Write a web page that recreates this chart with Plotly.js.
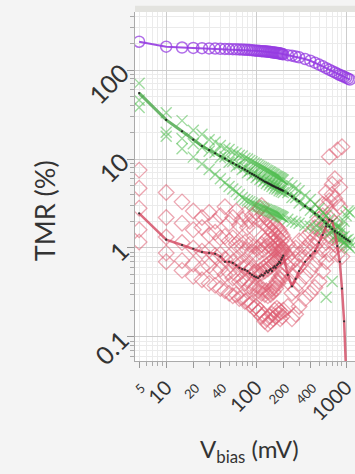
<!DOCTYPE html>
<html>
<head>
<meta charset="utf-8">
<script src="https://cdn.plot.ly/plotly-3.0.1.min.js"></script>
<style>
html,body{margin:0;padding:0;background:#f4f4f4;overflow:hidden;width:355px;height:474px;}
#chart{width:380px;height:474px;}
</style>
</head>
<body>
<div id="chart"></div>
<script>
// Bias voltage grid (mV)
const vbias = [5,10,15,20,25,30,35,40,45,50,55,60,65,70,75,80,85,90,95,100,
  105,110,115,120,125,130,135,140,145,150,155,160,165,170,175,180,185,190,195,200,
  225,250,275,300,350,400,450,500,550,600,650,700,750,800,850,900,950,1000,1050,1100];

// Purple series (TMR %)
const tmrPurple = [208,183,179,177,176,175,174,173,172.5,172,
  171.5,171,170.5,170,169,168.5,168,167,166,165,
  164.5,164,163,162.5,162,161,160.5,160,159,158,
  157.5,157,156,155.5,155,154,153,152,151,150,
  147,145,142,139,133,127,121,115,110,105,
  101,97,94,91,88,86,84,82,80,78];

// Green series: mean line and individual runs
const greenMean = [55,27.5,20.5,16.5,14,12.6,11.6,10.8,10.1,9.5,
  9.0,8.6,8.2,7.9,7.6,7.3,7.0,6.8,6.6,6.4,
  6.2,6.0,5.85,5.7,5.55,5.45,5.35,5.25,5.15,5.05,
  4.95,4.9,4.8,4.75,4.7,4.6,4.55,4.5,4.45,4.4,
  4.1,3.8,3.55,3.35,2.95,2.7,2.45,2.25,2.05,1.88,
  1.74,1.63,1.55,1.48,1.42,1.36,1.31,1.26,1.22,1.18];
const greenHigh = [71,33,27,21,19,16.5,15.5,14.2,13.2,12.8,
  12.0,11.6,11.0,10.8,10.2,10.0,9.6,9.3,9.0,8.8,
  8.5,8.3,8.1,7.9,7.7,7.5,7.4,7.2,7.1,6.9,
  6.8,6.7,6.5,6.4,6.3,6.2,6.1,6.0,5.9,5.8,
  5.4,5.0,4.7,4.4,3.9,3.5,3.1,2.8,2.5,2.3,
  2.1,1.95,1.85,1.75,1.7,1.65,2.0,2.3,2.6,2.5];
const greenMid = [46,20,17,14.8,13.5,12.2,11.8,10.4,10.6,9.2,
  9.4,8.3,8.7,7.6,8.0,7.0,7.4,6.6,6.9,6.2,
  6.5,5.9,6.1,5.6,5.8,5.3,5.6,5.1,5.4,4.9,
  5.2,4.7,5.0,4.6,4.8,4.4,4.7,4.3,4.6,4.2,
  4.2,3.7,3.7,3.2,3.0,2.65,2.5,2.2,2.1,1.85,
  1.8,1.6,1.6,1.45,1.45,1.32,1.35,1.22,1.25,1.15];
const greenLow = [38,18,13,10.5,8.8,7.6,6.7,6.0,5.4,4.9,
  4.6,4.3,4.0,3.7,3.5,3.4,3.3,3.2,3.1,3.0,
  2.95,2.9,2.85,2.8,2.75,2.7,2.66,2.62,2.58,2.55,
  2.5,2.47,2.44,2.4,2.37,2.34,2.3,2.27,2.24,2.2,
  2.1,2.0,1.95,1.9,1.8,1.75,1.7,1.65,1.55,0.28,
  1.45,0.42,1.35,1.3,1.25,1.2,1.15,1.1,1.05,1.0];

// Red series: mean line and individual runs
const redMean = [2.45,1.24,1.08,0.98,0.9,0.88,0.86,0.8,0.7,0.7,
  0.68,0.64,0.6,0.58,0.57,0.55,0.52,0.5,0.48,0.47,
  0.46,0.48,0.5,0.49,0.52,0.55,0.53,0.56,0.58,0.55,
  0.6,0.62,0.6,0.64,0.66,0.7,0.68,0.74,0.78,0.82,
  0.5,0.37,0.45,0.55,0.7,0.82,0.92,1.15,1.4,1.75,
  2.07,2.0,1.5,1.05,0.7,0.35,0.15,0.04,0.02,null];
const redA = [7.5,4.2,3.3,2.6,2.2,2.5,2.0,2.3,2.9,1.9,
  2.2,2.6,1.8,2.1,2.4,1.7,2.0,2.3,1.6,2.5,
  2.1,2.8,3.0,2.4,1.9,2.2,1.7,2.0,1.6,1.9,
  1.5,1.8,1.4,1.7,1.3,1.6,1.5,1.2,1.4,1.3,
  1.1,0.9,1.0,1.2,1.3,1.5,1.7,2.1,3.1,4.2,
  10.6,5.2,6.0,12.6,4.8,13.7,null,null,null,null];
const redB = [4.7,2.2,1.9,1.6,1.7,1.4,1.5,1.3,1.35,1.2,
  1.3,1.1,1.2,1.0,1.15,0.95,1.1,0.9,1.05,0.85,
  1.0,0.9,1.1,0.95,1.2,1.05,1.3,1.1,1.25,1.0,
  1.15,0.95,1.2,1.0,1.1,0.9,1.05,0.95,1.0,0.9,
  0.8,0.7,0.75,0.85,1.0,1.15,1.3,1.6,2.3,2.9,
  3.4,4.0,3.6,3.2,2.9,null,null,null,null,null];
const redC = [2.8,1.33,1.15,1.0,0.92,0.95,0.82,0.85,0.75,0.8,
  0.7,0.74,0.65,0.68,0.6,0.63,0.56,0.6,0.53,0.55,
  0.5,0.56,0.52,0.6,0.55,0.64,0.58,0.68,0.62,0.72,
  0.66,0.75,0.7,0.8,0.74,0.85,0.78,0.9,0.82,0.95,
  0.62,0.48,0.55,0.62,0.78,0.9,1.05,1.2,1.45,1.8,
  2.2,2.4,1.9,1.4,1.1,0.8,null,null,null,null];
const redD = [1.6,0.88,0.72,0.66,0.6,0.63,0.55,0.58,0.5,0.53,
  0.46,0.5,0.42,0.45,0.4,0.43,0.37,0.4,0.35,0.38,
  0.33,0.36,0.31,0.34,0.3,0.33,0.29,0.32,0.3,0.35,
  0.32,0.38,0.35,0.42,0.4,0.46,0.44,0.5,0.48,0.55,
  0.42,0.31,0.34,0.4,0.48,0.56,0.65,0.78,0.95,1.15,
  1.35,1.3,1.1,0.85,null,null,null,null,null,null];
const redE = [1.17,0.7,0.56,0.48,0.44,0.4,0.38,0.35,0.33,0.31,
  0.29,0.3,0.27,0.28,0.25,0.26,0.23,0.24,0.21,0.22,
  0.19,0.2,0.17,0.18,0.15,0.16,0.14,0.17,0.15,0.18,
  0.16,0.2,0.17,0.21,0.18,0.2,0.16,0.19,0.17,0.2,
  0.22,0.16,0.18,0.22,0.27,0.31,0.36,0.42,0.55,0.7,
  0.85,null,null,null,null,null,null,null,null,null];

// Tick labels
const xTickVals = [5,10,20,40,100,200,400,1000];
const xTickLabels = ['5','10','20','40','100','200','400','1000'];
const xBigLabels = ['10','100','1000'];
const yTickVals = [0.1,1,10,100];
const yTickLabels = ['0.1','1','10','100'];
const decadeVals = [10,100,1000];

const xTickText = xTickLabels.map(t => xBigLabels.includes(t)
  ? '<span style="font-size:20px">' + t + '</span>'
  : '<span style="font-size:13px">' + t + '</span>');

const redRuns = [redA, redB, redC, redD, redE];
const greenRuns = [greenHigh, greenMid, greenLow];

const traces = [
  {x: redRuns.flatMap(() => vbias), y: redRuns.flatMap(r => r), type:'scatter', mode:'markers',
   marker:{symbol:'diamond-open', size:12, color:'rgba(222,95,115,0.55)', line:{width:1.3}}, hoverinfo:'skip'},
  {x: greenRuns.flatMap(() => vbias), y: greenRuns.flatMap(r => r), type:'scatter', mode:'markers',
   marker:{symbol:'x-thin-open', size:11, color:'rgba(80,190,80,0.55)', line:{width:1.4, color:'rgba(80,190,80,0.55)'}}, hoverinfo:'skip'},
  {x: vbias, y: redMean, type:'scatter', mode:'lines+markers', connectgaps:false,
   line:{color:'rgba(210,70,95,0.8)', width:2.5}, marker:{size:2.2, color:'#333'}},
  {x: vbias, y: greenMean, type:'scatter', mode:'lines+markers',
   line:{color:'rgba(70,165,70,0.8)', width:3}, marker:{size:2.2, color:'#222'}},
  {x: vbias, y: tmrPurple, type:'scatter', mode:'lines+markers',
   line:{color:'rgba(150,60,225,0.9)', width:2},
   marker:{symbol:'circle-open', size:11, color:'rgba(150,60,225,0.75)', line:{width:1.5}}},
  {x: [], y: [], xaxis:'x2', type:'scatter', mode:'markers', showlegend:false}
];

const xr = [Math.log10(4.5), 3.21];
const layout = {
  width: 380, height: 474,
  margin: {l:135, r:15, t:12, b:113},
  paper_bgcolor: '#f4f4f4', plot_bgcolor: '#ffffff',
  showlegend: false,
  font: {family: 'Lato, "Open Sans", sans-serif', color: '#333'},
  xaxis: {
    type:'log', range: xr, tickmode:'array', tickvals: xTickVals, ticktext: xTickText,
    tickangle: -45, showgrid:false, zeroline:false,
    ticks:'outside', ticklen:6, tickcolor:'#999', showline:true, linecolor:'#aaa',
    tickfont:{size:20, color:'#333'},
    minor:{dtick:'D1', showgrid:true, gridcolor:'#ebebeb', ticks:'outside', ticklen:4, tickcolor:'#aaa'}
  },
  xaxis2: {
    type:'log', range: xr, overlaying:'x', anchor:'y', side:'bottom',
    tickmode:'array', tickvals: decadeVals, showticklabels:false, ticks:'',
    showgrid:true, gridcolor:'#cdcdcd', showline:false, zeroline:false
  },
  yaxis: {
    type:'log', range:[-1.27, 2.652], tickmode:'array', tickvals: yTickVals, ticktext: yTickLabels,
    tickangle:-45, tickfont:{size:25, color:'#333'},
    showgrid:true, gridcolor:'#cdcdcd', zeroline:false,
    ticks:'outside', ticklen:7, tickcolor:'#999', showline:true, linecolor:'#aaa',
    minor:{dtick:'D1', showgrid:true, gridcolor:'#ebebeb', ticks:'outside', ticklen:4, tickcolor:'#aaa'}
  },
  shapes: [
    {type:'rect', xref:'paper', yref:'paper', x0:0, x1:1, y0:1, y1:1.018, fillcolor:'#e3e3df', line:{width:0}, layer:'below'}
  ],
  annotations: [
    {text:'TMR (%)', xref:'paper', yref:'paper', x:-0.39, y:0.43, xanchor:'center', yanchor:'middle',
     textangle:-90, showarrow:false, font:{size:27, color:'#333'}},
    {text:'V<sub>bias</sub> (mV)', xref:'paper', yref:'paper', x:0.496, y:-0.256, xanchor:'center', yanchor:'middle',
     showarrow:false, font:{size:24, color:'#333'}}
  ]
};

Plotly.newPlot('chart', traces, layout, {staticPlot:true, displayModeBar:false});
</script>
</body>
</html>
